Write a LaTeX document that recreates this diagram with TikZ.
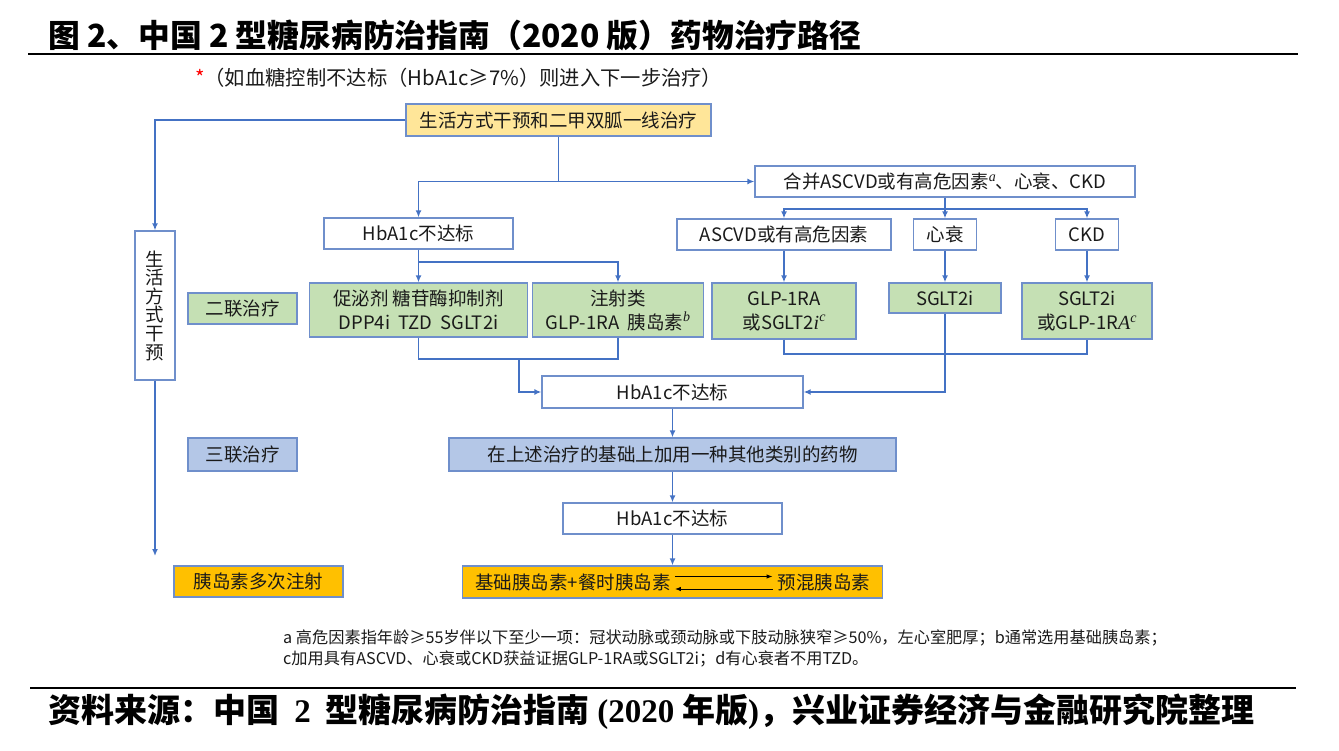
\documentclass[tikz,border=0pt]{standalone}
\usepackage{fontspec}
\setmainfont{Noto Sans CJK SC}
\newfontfamily\srcserif{Liberation Serif}
\newfontfamily\itfont{Liberation Serif}
\usetikzlibrary{arrows.meta}
\definecolor{lblue}{HTML}{4472C4}
\definecolor{bd}{HTML}{6F8FCB}
\definecolor{yel}{HTML}{FFE699}
\definecolor{grn}{HTML}{C5E0B4}
\definecolor{blu}{HTML}{B4C7E7}
\definecolor{org}{HTML}{FFC000}
\definecolor{txt}{HTML}{1A1A1A}
\newcommand{\supit}[1]{\raisebox{0.4em}{\fontsize{14}{14}\selectfont\itfont\itshape #1}}
\newcommand{\itl}[1]{{\fontsize{20}{20}\selectfont\itfont\itshape #1}}
\tikzset{
  box/.style={draw=bd, line width=1.3pt, inner sep=0pt, align=center, text=txt,
    font=\fontsize{18.5}{24}\selectfont},
  conn/.style={draw=lblue, line width=1.5pt},
  arr/.style={draw=lblue, line width=1.5pt, -{Latex[length=7pt,width=6pt]}},
  harr/.style={draw=black, line width=1pt, -{Latex[length=6pt,width=4.5pt]}},
}
\begin{document}
\begin{tikzpicture}[x=1pt,y=-1pt]
\useasboundingbox (0,0) rectangle (1339,751);
% title and rules
\node[anchor=west, inner sep=0pt, font=\fontsize{31.8}{34}\selectfont\bfseries] (title) at (48,35)
  {图 2、中国 2 型糖尿病防治指南（2020 版）药物治疗路径};
\coordinate (r1a) at (28,54); \coordinate (r1b) at (1298,54);
\draw[line width=2.8pt] (r1a) -- (r1b);
\node[anchor=west, inner sep=0pt, font=\fontsize{20.3}{22}\selectfont, text=txt] (sub) at (195,78)
  {\textcolor{red}{*}（如血糖控制不达标（HbA1c≥7\%）则进入下一步治疗）};

% boxes
\node[box, fill=yel, minimum width=305pt, minimum height=32pt] (b1) at (558.5,120) {生活方式干预和二甲双胍一线治疗};
\node[box, minimum width=40pt, minimum height=149pt, font=\fontsize{18.5}{18.6}\selectfont] (ls) at (155,305.5)
  {生\\活\\方\\式\\干\\预};
\node[box, minimum width=189pt, minimum height=31pt] (h1) at (418.5,233.5) {HbA1c不达标};
\node[box, minimum width=380pt, minimum height=31pt] (comb) at (945,181.5) {合并ASCVD或有高危因素\supit{a}、心衰、CKD};
\node[box, minimum width=214pt, minimum height=31pt] (ascvd) at (784,234.5) {ASCVD或有高危因素};
\node[box, minimum width=63pt, minimum height=31pt] (hf) at (945,234.5) {心衰};
\node[box, minimum width=63pt, minimum height=31pt] (ckd) at (1087,234.5) {CKD};

\node[box, fill=grn, minimum width=218pt, minimum height=54pt] (g1) at (418.5,310) {促泌剂\ 糖苷酶抑制剂\\DPP4i\ \ TZD\ \ SGLT2i};
\node[box, fill=grn, minimum width=171pt, minimum height=54pt] (g2) at (618,310) {注射类\\GLP-1RA\ \ 胰岛素\supit{b}};
\node[box, fill=grn, minimum width=144pt, minimum height=56pt] (g3) at (784,311) {GLP-1RA\\或SGLT2\itl{i}\supit{c}};
\node[box, fill=grn, minimum width=112pt, minimum height=30pt] (g4) at (945,298) {SGLT2i};
\node[box, fill=grn, minimum width=130pt, minimum height=56pt] (g5) at (1087,311) {SGLT2i\\或GLP-1R\itl{A}\supit{c}};

\node[box, fill=grn, minimum width=109pt, minimum height=31pt] (erl) at (242.5,308.5) {二联治疗};
\node[box, minimum width=261pt, minimum height=32pt] (h2) at (672.5,392) {HbA1c不达标};
\node[box, fill=blu, minimum width=109pt, minimum height=33pt] (sanl) at (242.5,454.5) {三联治疗};
\node[box, fill=blu, minimum width=447pt, minimum height=33pt] (add) at (672.5,454.5) {在上述治疗的基础上加用一种其他类别的药物};
\node[box, minimum width=219pt, minimum height=31pt] (h3) at (672.5,518.5) {HbA1c不达标};
\node[box, fill=org, minimum width=420pt, minimum height=32pt] (ins) at (672.5,582) {};
\node[inner sep=0pt, text=txt, font=\fontsize{18.5}{22}\selectfont] (insl) at (573,582) {基础胰岛素+餐时胰岛素};
\node[inner sep=0pt, text=txt, font=\fontsize{18.5}{22}\selectfont] (insr) at (824,582) {预混胰岛素};
\node[box, fill=org, minimum width=169pt, minimum height=31pt] (multi) at (258.5,581.5) {胰岛素多次注射};

% connectors
\coordinate (lsend) at (155,556);
\draw[arr] (b1.west) -| (ls.north);
\draw[arr] (ls.south) -- (lsend);
\coordinate (j1) at (558.5,181.5);
\draw[conn] (b1.south) -- (j1);
\draw[arr] (j1) -| (h1.north);
\draw[arr] (j1) -- (comb.west);
\coordinate (j2) at (418.5,262);
\draw[arr] (h1.south) -- (g1.north);
\draw[arr] (j2) -| (g2.north);
\coordinate (m1) at (519,359);
\draw[conn] (g1.south) |- (m1);
\draw[conn] (g2.south) |- (m1);
\draw[arr] (m1) |- (h2.west);
\coordinate (j4) at (945,209);
\draw[arr] (comb.south) -- (hf.north);
\draw[arr] (j4) -| (ascvd.north);
\draw[arr] (j4) -| (ckd.north);
\draw[arr] (ascvd.south) -- (g3.north);
\draw[arr] (hf.south) -- (g4.north);
\draw[arr] (ckd.south) -- (g5.north);
\coordinate (m2) at (945,354);
\draw[conn] (g3.south) |- (m2) -| (g5.south);
\draw[arr] (g4.south) |- (h2.east);
\draw[arr] (h2.south) -- (add.north);
\draw[arr] (add.south) -- (h3.north);
\draw[arr] (h3.south) -- (ins.north);
\draw[harr] ([xshift=4pt,yshift=5.5pt]insl.east) -- ([xshift=-5pt,yshift=5.5pt]insr.west);
\draw[harr] ([xshift=-5pt,yshift=-7pt]insr.west) -- ([xshift=4pt,yshift=-7pt]insl.east);

% footnotes
\node[anchor=west, inner sep=0pt, text=txt, font=\fontsize{16.2}{18}\selectfont] (fn1) at (283,638)
  {a 高危因素指年龄≥55岁伴以下至少一项：冠状动脉或颈动脉或下肢动脉狭窄≥50\%，左心室肥厚；b通常选用基础胰岛素；};
\node[anchor=west, inner sep=0pt, text=txt, font=\fontsize{16.2}{18}\selectfont] (fn2) at (283,659)
  {c加用具有ASCVD、心衰或CKD获益证据GLP-1RA或SGLT2i；d有心衰者不用TZD。};

% source
\coordinate (r2a) at (30,688); \coordinate (r2b) at (1296,688);
\draw[line width=2.2pt] (r2a) -- (r2b);
\node[anchor=west, inner sep=0pt, font=\fontsize{33}{35}\selectfont\bfseries] (src) at (48,712)
  {资料来源：中国\ \ {\srcserif 2}\ \ 型糖尿病防治指南\ {\srcserif (2020} 年版{\srcserif )}，兴业证券经济与金融研究院整理};
\end{tikzpicture}
\end{document}
